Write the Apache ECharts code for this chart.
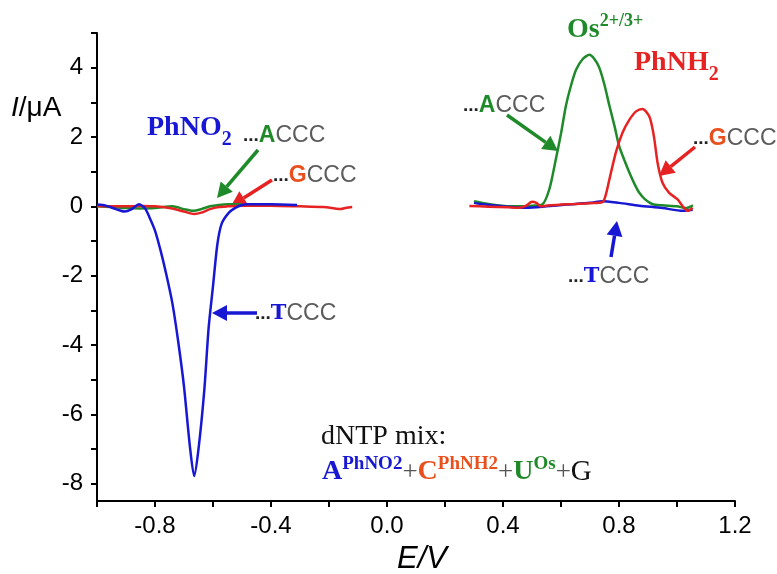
<!DOCTYPE html>
<html>
<head>
<meta charset="utf-8">
<script src="https://cdn.jsdelivr.net/npm/echarts@6/dist/echarts.min.js"></script>
<style>
  html, body { margin: 0; padding: 0; background: #fff; }
  #chart { width: 777px; height: 574px; }
</style>
</head>
<body>
<div id="chart"></div>
<script>
// voltammograms, E in V, I in uA
const blueLeft = [[-1.0,0.05],[-0.97,0.02],[-0.935,-0.08],[-0.905,-0.15],[-0.88,-0.08],[-0.855,0.06],[-0.835,-0.05],[-0.82,-0.3],[-0.80,-0.7],[-0.78,-1.3],[-0.76,-2.0],[-0.74,-2.8],[-0.72,-3.9],[-0.70,-5.2],[-0.68,-6.9],[-0.665,-7.78],[-0.65,-7.0],[-0.63,-5.3],[-0.615,-3.5],[-0.60,-2.3],[-0.585,-1.1],[-0.57,-0.5],[-0.545,-0.18],[-0.52,-0.03],[-0.50,0.04],[-0.48,0.06],[-0.40,0.06],[-0.31,0.04]]
const greenLeft = [[-1.0,0.0],[-0.95,-0.02],[-0.90,-0.05],[-0.85,-0.06],[-0.80,-0.05],[-0.74,0.0],[-0.70,-0.08],[-0.67,-0.13],[-0.64,-0.08],[-0.61,0.0],[-0.58,0.04],[-0.55,0.06],[-0.50,0.06]]
const redLeft = [[-1.0,0.01],[-0.95,0.0],[-0.90,0.0],[-0.85,0.01],[-0.80,0.0],[-0.75,-0.05],[-0.70,-0.15],[-0.665,-0.22],[-0.64,-0.18],[-0.61,-0.08],[-0.58,-0.02],[-0.55,0.0],[-0.50,0.02],[-0.40,0.02],[-0.30,0.0],[-0.22,-0.02],[-0.18,-0.06],[-0.16,-0.08],[-0.14,-0.04],[-0.12,-0.02]]
const greenRight = [[0.30,0.15],[0.34,0.08],[0.38,0.03],[0.42,0.0],[0.46,0.0],[0.50,0.02],[0.535,0.05],[0.56,0.5],[0.582,1.35],[0.60,2.1],[0.617,2.9],[0.635,3.5],[0.652,3.94],[0.675,4.25],[0.698,4.37],[0.715,4.25],[0.732,4.0],[0.75,3.5],[0.767,2.9],[0.785,2.3],[0.80,1.75],[0.82,1.3],[0.836,0.97],[0.855,0.62],[0.87,0.39],[0.89,0.2],[0.916,0.06],[0.95,0.03],[1.00,0.0],[1.03,-0.05],[1.055,0.03]]
const redRight = [[0.284,0.01],[0.35,-0.01],[0.42,-0.03],[0.456,-0.04],[0.48,0.02],[0.50,0.13],[0.515,0.1],[0.53,0.0],[0.56,0.03],[0.60,0.05],[0.65,0.07],[0.70,0.09],[0.743,0.12],[0.755,0.35],[0.767,0.78],[0.789,1.55],[0.812,2.12],[0.836,2.5],[0.859,2.74],[0.881,2.81],[0.904,2.6],[0.914,2.3],[0.922,1.93],[0.933,1.26],[0.95,0.68],[0.973,0.39],[1.002,0.2],[1.02,0.0],[1.037,-0.13],[1.054,-0.04]]
const blueRight = [[0.30,0.10],[0.34,0.05],[0.40,0.0],[0.48,-0.04],[0.55,0.0],[0.62,0.05],[0.70,0.1],[0.743,0.15],[0.80,0.1],[0.87,0.02],[0.95,-0.05],[1.02,-0.13],[1.054,-0.1]]

const xTicks = [-1.0, -0.8, -0.6, -0.4, -0.2, 0, 0.2, 0.4, 0.6, 0.8, 1.0, 1.2]
const xTickLabels = [-0.8, -0.4, 0, 0.4, 0.8, 1.2]
const yTicks = [-8, -7, -6, -5, -4, -3, -2, -1, 0, 1, 2, 3, 4, 5]
const yTickLabels = [-8, -6, -4, -2, 0, 2, 4]

const BLUE = '#1717d4'
const RED = '#e62222'
const GREEN = '#1f8a2a'
const ORANGE = '#e8501e'
const GREY = '#5c5c5c'

const chart = echarts.init(document.getElementById('chart'))

// simple arrow: line + filled head, pixel coords
function arrow(x1, y1, x2, y2, color) {
  const dx = x2 - x1, dy = y2 - y1
  const len = Math.sqrt(dx * dx + dy * dy)
  const ux = dx / len, uy = dy / len
  const hl = 15, hw = 8
  const bx = x2 - ux * hl, by = y2 - uy * hl
  return {
    type: 'group',
    children: [
      {type: 'line', shape: {x1: x1, y1: y1, x2: bx, y2: by}, style: {stroke: color, lineWidth: 3.5}},
      {type: 'polygon', shape: {points: [[x2, y2], [bx - uy * hw, by + ux * hw], [bx + uy * hw, by - ux * hw]]}, style: {fill: color}}
    ]
  }
}

const sans = 'Liberation Sans'
const serif = 'Liberation Serif'

function seqLabel(left, top, letter, letterStyle) {
  return {
    type: 'text', left: left, top: top,
    style: {
      text: '{d|...}{l|' + letter + '}{c|CCC}',
      rich: {
        d: {fontFamily: sans, fontSize: 19, fontWeight: 'bold', fill: '#222'},
        l: letterStyle,
        c: {fontFamily: sans, fontSize: 23, fill: GREY}
      }
    }
  }
}

const seqA = {fontFamily: sans, fontSize: 23, fontWeight: 'bold', fill: GREEN}
const seqG = {fontFamily: sans, fontSize: 23, fontWeight: 'bold', fill: ORANGE}
const seqT = {fontFamily: 'DejaVu Serif', fontSize: 21, fontWeight: 'bold', fill: BLUE}

const line = (data, color) => ({
  type: 'line', data: data, showSymbol: false, smooth: 0.25,
  lineStyle: {color: color, width: 2.5}, itemStyle: {color: color}
})

const option = {
  animation: false,
  backgroundColor: '#fff',
  grid: {left: 97, right: 42, top: 33, bottom: 73},
  xAxis: {
    type: 'value', min: -1.0, max: 1.2,
    axisLine: {show: true, onZero: false, lineStyle: {color: '#000', width: 2}},
    axisTick: {show: true, length: 6, customValues: xTicks, lineStyle: {color: '#000', width: 2}},
    axisLabel: {customValues: xTickLabels, formatter: v => v.toFixed(1), fontFamily: sans, fontSize: 24, color: '#000', margin: 13},
    splitLine: {show: false}
  },
  yAxis: {
    type: 'value', min: -8.5, max: 5,
    axisLine: {show: true, onZero: false, lineStyle: {color: '#000', width: 2}},
    axisTick: {show: true, length: 6, customValues: yTicks, lineStyle: {color: '#000', width: 2}},
    axisLabel: {customValues: yTickLabels, formatter: v => String(v), fontFamily: sans, fontSize: 24, color: '#000', margin: 14},
    splitLine: {show: false}
  },
  series: [
    line(greenLeft, GREEN),
    line(redLeft, RED),
    line(blueLeft, BLUE),
    line(greenRight, GREEN),
    line(blueRight, BLUE),
    line(redRight, RED)
  ],
  graphic: [
    // axis titles
    {type: 'text', left: 11, top: 94, style: {
      text: '{i|I}{r|/\u03bcA}',
      rich: {i: {fontFamily: sans, fontSize: 28, fontStyle: 'italic', fill: '#000'}, r: {fontFamily: sans, fontSize: 28, fill: '#000'}}
    }},
    {type: 'text', left: 397, top: 544, style: {text: 'E/V', font: 'italic 31px "Liberation Sans"', fill: '#000'}},
    // peak labels
    {type: 'text', left: 147, top: 114, style: {
      text: '{m|PhNO}{s|2}',
      rich: {
        m: {fontFamily: serif, fontWeight: 'bold', fontSize: 28, fill: BLUE, verticalAlign: 'top', lineHeight: 30},
        s: {fontFamily: serif, fontWeight: 'bold', fontSize: 20, fill: BLUE, verticalAlign: 'top', lineHeight: 20, padding: [16, 0, 0, 0]}
      }
    }},
    {type: 'text', left: 567, top: 12, style: {
      text: '{m|Os}{s|2+/3+}',
      rich: {
        m: {fontFamily: serif, fontWeight: 'bold', fontSize: 28, fill: GREEN, verticalAlign: 'top', lineHeight: 30, padding: [4, 0, 0, 0]},
        s: {fontFamily: serif, fontWeight: 'bold', fontSize: 18, fill: GREEN, verticalAlign: 'top', lineHeight: 18}
      }
    }},
    {type: 'text', left: 634, top: 49, style: {
      text: '{m|PhNH}{s|2}',
      rich: {
        m: {fontFamily: serif, fontWeight: 'bold', fontSize: 28, fill: RED, verticalAlign: 'top', lineHeight: 30},
        s: {fontFamily: serif, fontWeight: 'bold', fontSize: 20, fill: RED, verticalAlign: 'top', lineHeight: 20, padding: [16, 0, 0, 0]}
      }
    }},
    // sequence labels
    seqLabel(243, 124, 'A', seqA),
    seqLabel(273, 164, 'G', seqG),
    seqLabel(255, 302, 'T', seqT),
    seqLabel(463, 94, 'A', seqA),
    seqLabel(693, 127, 'G', seqG),
    seqLabel(568, 265, 'T', seqT),
    arrow(258, 150, 217, 198, GREEN),
    arrow(272, 180, 231, 206, RED),
    arrow(257, 313, 212, 313, BLUE),
    arrow(507, 115, 558, 151, GREEN),
    arrow(695, 147, 659, 176, RED),
    arrow(611, 257, 617, 221, BLUE),
    // dNTP mix
    {type: 'text', left: 321, top: 423, style: {text: 'dNTP mix:', font: '28px "Liberation Serif"', fill: '#111'}},
    {type: 'text', left: 322, top: 455, style: {
      text: '{a|A}{s1|PhNO2}{p|+}{c|C}{s2|PhNH2}{p|+}{u|U}{s3|Os}{p|+}{g|G}',
      rich: {
        a: {fontFamily: serif, fontWeight: 'bold', fontSize: 28, fill: BLUE, verticalAlign: 'top', lineHeight: 30, padding: [3, 0, 0, 0]},
        s1: {fontFamily: serif, fontWeight: 'bold', fontSize: 19, fill: BLUE, verticalAlign: 'top', lineHeight: 19},
        c: {fontFamily: serif, fontWeight: 'bold', fontSize: 28, fill: ORANGE, verticalAlign: 'top', lineHeight: 30, padding: [3, 0, 0, 0]},
        s2: {fontFamily: serif, fontWeight: 'bold', fontSize: 19, fill: ORANGE, verticalAlign: 'top', lineHeight: 19},
        u: {fontFamily: serif, fontWeight: 'bold', fontSize: 28, fill: GREEN, verticalAlign: 'top', lineHeight: 30, padding: [3, 0, 0, 0]},
        s3: {fontFamily: serif, fontWeight: 'bold', fontSize: 19, fill: GREEN, verticalAlign: 'top', lineHeight: 19},
        p: {fontFamily: serif, fontSize: 27, fill: '#555', verticalAlign: 'top', lineHeight: 30, padding: [4, 0, 0, 0]},
        g: {fontFamily: serif, fontSize: 29, fill: '#111', verticalAlign: 'top', lineHeight: 30, padding: [3, 0, 0, 0]}
      }
    }}
  ]
}

chart.setOption(option)
</script>
</body>
</html>
